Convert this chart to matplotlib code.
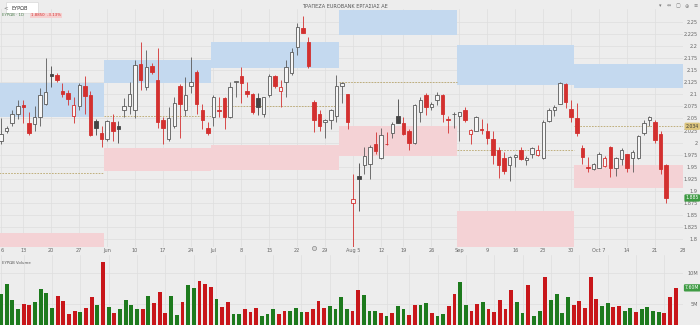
import numpy as np
import pandas as pd
import matplotlib
matplotlib.use("Agg")
import matplotlib.pyplot as plt
import matplotlib.transforms as mtrans
from matplotlib.patches import Rectangle, FancyBboxPatch

# ---------------- data ----------------
holidays = ["2024-06-24", "2024-08-15"]
dates = pd.bdate_range("2024-05-07", "2024-10-23")
dates = dates[~dates.isin(pd.to_datetime(holidays))]

opens = [2.004, 2.023, 2.040, 2.060, 2.077, 2.040, 2.038, 2.054, 2.081, 2.142,
         2.140, 2.108, 2.102, 2.056, 2.075, 2.117, 2.098, 2.044, 2.019, 2.008,
         2.042, 2.035, 2.067, 2.075, 2.067, 2.163, 2.115, 2.158, 2.129, 2.046,
         2.008, 2.035, 2.117, 2.067, 2.117, 2.146, 2.067, 2.031, 2.052, 2.068,
         2.092, 2.052, 2.125, 2.138, 2.108, 2.100, 2.092, 2.060, 2.098, 2.138,
         2.106, 2.125, 2.144, 2.198, 2.238, 2.208, 2.085, 2.060, 2.042, 2.046,
         2.056, 2.117, 2.100, 1.875, 1.931, 1.954, 1.956, 1.996, 1.967, 1.998,
         2.019, 2.056, 2.040, 2.025, 2.000, 2.063, 2.098, 2.073, 2.088, 2.098,
         2.049, 2.059, 2.056, 2.067, 2.017, 2.025, 2.028, 2.025, 2.008, 1.985,
         1.967, 1.954, 1.969, 1.985, 1.964, 1.977, 1.975, 1.967, 2.044, 2.067,
         2.081, 2.121, 2.069, 2.050, 1.988, 1.949, 1.946, 1.948, 1.952, 1.990,
         1.948, 1.965, 1.977, 1.967, 1.967, 2.019, 2.046, 2.042, 2.017, 1.954]
highs = [2.050, 2.035, 2.067, 2.088, 2.088, 2.063, 2.075, 2.113, 2.175, 2.158,
         2.144, 2.123, 2.110, 2.094, 2.123, 2.138, 2.108, 2.048, 2.035, 2.046,
         2.060, 2.044, 2.092, 2.125, 2.171, 2.208, 2.192, 2.165, 2.196, 2.054,
         2.073, 2.094, 2.121, 2.135, 2.177, 2.150, 2.081, 2.042, 2.098, 2.094,
         2.094, 2.125, 2.128, 2.156, 2.125, 2.102, 2.102, 2.094, 2.142, 2.140,
         2.129, 2.171, 2.196, 2.248, 2.263, 2.219, 2.088, 2.067, 2.048, 2.069,
         2.140, 2.125, 2.100, 1.935, 1.958, 1.990, 1.994, 2.021, 2.031, 2.021,
         2.042, 2.090, 2.054, 2.029, 2.081, 2.094, 2.102, 2.085, 2.104, 2.100,
         2.056, 2.063, 2.063, 2.073, 2.029, 2.056, 2.048, 2.040, 2.023, 1.990,
         1.981, 1.973, 1.977, 1.990, 1.973, 1.990, 1.994, 2.046, 2.071, 2.077,
         2.125, 2.123, 2.088, 2.083, 1.994, 1.969, 1.958, 1.981, 1.973, 1.992,
         1.969, 1.988, 1.977, 1.985, 2.015, 2.046, 2.056, 2.046, 2.025, 1.956]
lows = [1.998, 2.019, 2.035, 2.048, 2.040, 2.015, 2.025, 2.035, 2.077, 2.115,
        2.125, 2.094, 2.077, 2.040, 2.067, 2.060, 2.013, 2.015, 1.990, 2.004,
        2.004, 2.000, 2.052, 2.060, 2.050, 2.110, 2.110, 2.142, 2.031, 1.998,
        2.004, 2.031, 2.010, 2.056, 2.102, 2.060, 2.029, 2.015, 2.035, 2.052,
        2.029, 2.050, 2.094, 2.083, 2.094, 2.060, 2.058, 2.052, 2.094, 2.113,
        2.073, 2.094, 2.140, 2.181, 2.227, 2.154, 2.021, 2.025, 2.010, 2.029,
        2.042, 2.083, 2.029, 1.781, 1.858, 1.935, 1.925, 1.977, 1.965, 1.994,
        2.010, 2.040, 2.015, 1.985, 1.998, 2.042, 2.058, 2.067, 2.077, 2.042,
        2.019, 2.031, 2.004, 2.042, 1.998, 2.023, 2.017, 1.998, 1.956, 1.927,
        1.935, 1.921, 1.950, 1.963, 1.954, 1.967, 1.973, 1.965, 2.042, 2.056,
        2.081, 2.071, 2.042, 2.013, 1.956, 1.938, 1.944, 1.948, 1.950, 1.929,
        1.931, 1.954, 1.938, 1.938, 1.965, 2.015, 2.035, 2.000, 1.935, 1.875]
closes = [2.017, 2.031, 2.060, 2.075, 2.073, 2.019, 2.052, 2.098, 2.104, 2.138,
          2.129, 2.100, 2.090, 2.077, 2.119, 2.096, 2.015, 2.031, 2.008, 2.044,
          2.025, 2.029, 2.075, 2.100, 2.160, 2.129, 2.156, 2.146, 2.042, 2.031,
          2.050, 2.083, 2.079, 2.098, 2.125, 2.081, 2.046, 2.019, 2.094, 2.066,
          2.052, 2.115, 2.127, 2.123, 2.100, 2.063, 2.073, 2.094, 2.138, 2.117,
          2.115, 2.156, 2.188, 2.240, 2.227, 2.158, 2.046, 2.035, 2.046, 2.067,
          2.117, 2.123, 2.042, 1.883, 1.925, 1.973, 1.990, 1.983, 2.015, 1.996,
          2.038, 2.040, 2.017, 2.000, 2.077, 2.088, 2.073, 2.081, 2.098, 2.060,
          2.047, 2.060, 2.063, 2.046, 2.027, 2.054, 2.026, 2.010, 1.975, 1.954,
          1.942, 1.969, 1.975, 1.965, 1.967, 1.988, 1.985, 2.042, 2.067, 2.073,
          2.123, 2.085, 2.054, 2.019, 1.969, 1.947, 1.956, 1.977, 1.967, 1.948,
          1.967, 1.985, 1.948, 1.981, 2.013, 2.040, 2.054, 2.006, 1.946, 1.885]
volumes_m = [6.6, 8.2, 5.6, 4.2, 5.0, 4.8, 5.3, 7.4, 6.8, 4.4,
             6.3, 5.5, 3.4, 3.9, 3.7, 4.4, 6.1, 4.8, 11.8, 4.5,
             3.5, 4.2, 5.6, 4.8, 4.2, 4.2, 6.3, 5.2, 6.9, 3.5,
             6.3, 3.2, 5.3, 8.1, 7.6, 8.7, 8.2, 7.7, 5.8, 4.5,
             5.3, 3.4, 3.4, 4.2, 3.7, 4.4, 3.1, 3.4, 4.2, 3.4,
             3.9, 3.9, 4.4, 3.7, 3.7, 4.2, 5.5, 4.4, 4.7, 4.2,
             6.1, 4.2, 3.9, 7.3, 6.5, 3.9, 3.9, 3.5, 3.1, 3.5,
             4.7, 4.2, 3.2, 4.8, 4.8, 5.2, 3.5, 3.1, 3.4, 4.7,
             6.6, 8.5, 4.8, 3.9, 5.0, 5.3, 4.2, 3.7, 5.6, 4.2,
             7.3, 5.3, 3.5, 8.1, 3.1, 3.9, 9.4, 5.6, 6.6, 3.5,
             6.1, 4.8, 5.5, 4.4, 9.4, 5.8, 4.7, 5.2, 4.5, 4.7,
             3.9, 4.4, 3.7, 4.2, 4.5, 3.9, 3.7, 3.5, 6.1, 7.6]

# monthly zones (upper = blue, lower = pink)
zone_months = [5, 6, 7, 8, 9, 10]
upper_top = [2.123, 2.171, 2.208, 2.275, 2.202, 2.1625]
upper_bot = [2.052, 2.123, 2.154, 2.223, 2.119, 2.1125]
lower_top = [1.8125, 1.988, 1.994, 2.035, 1.858, 1.954]
lower_bot = [1.760, 1.942, 1.944, 1.973, 1.760, 1.906]

week_labels = ["6", "13", "20", "27", "Jun", "10", "17", "24", "Jul", "8", "15",
               "22", "29", "Aug 5", "12", "19", "26", "Sep", "9", "16", "23",
               "30", "Oct 7", "14", "21", "28"]
price_ticks = [1.8, 1.825, 1.85, 1.875, 1.9, 1.925, 1.95, 1.975, 2.0, 2.025, 2.05,
               2.075, 2.1, 2.125, 2.15, 2.175, 2.2, 2.225, 2.25]
vol_ticks = [5, 10]
vol_tick_labels = ["5M", "10M"]
title = "ΤΡΑΠΕΖΑ EUROBANK ΕΡΓΑΣΙΑΣ ΑΕ"
symbol = "ΕΥΡΩΒ"

# ---------------- style ----------------
BG = "#ededed"
GRID = "#dedede"
RED = "#d3302f"
GRAY = "#5a5a5a"
DARK = "#444444"
HOLLOW = "#f6f6f6"
VGREEN = "#1d7a1d"
VRED = "#c8161a"
BLUE_Z = "#c4d9ef"
PINK_Z = "#f4d2d5"
MID = "#b9a66b"

W, H = 700, 325
fig = plt.figure(figsize=(7, 3.25), dpi=100)
fig.patch.set_facecolor(BG)


def rect(x0, y0, x1, y1):
    return [x0 / W, 1 - y1 / H, (x1 - x0) / W, (y1 - y0) / H]


ax = fig.add_axes(rect(0, 9, 683, 247))
vax = fig.add_axes(rect(0, 255, 683, 335))
n = len(closes)
x = np.arange(n)
for a in (ax, vax):
    a.set_facecolor(BG)
    for s in a.spines.values():
        s.set_visible(False)
    a.set_xlim(-0.18, 120.3)
ax.set_ylim(1.7833, 2.2771)
vax.set_ylim(0, 12.9)

# week tick positions: first trading day of each week
wk = dates.to_period("W")
first_idx = [0] + [i for i in range(1, n) if wk[i] != wk[i - 1]]
next_monday_pos = first_idx[-1] + 5  # Oct 28 (beyond data)
tick_pos = first_idx + [next_monday_pos]
tick_pos = tick_pos[:len(week_labels)]

for a in (ax, vax):
    for tp in tick_pos:
        a.axvline(tp, color=GRID, lw=0.5, zorder=0)

ax.set_xticks(tick_pos)
ax.set_xticklabels(week_labels, fontsize=3.6, color="#666666")
ax.get_xticklabels()[0].set_ha("left")
ax.tick_params(axis="x", length=0, pad=1.0)
vax.set_xticks([])

# price axis
ax.yaxis.tick_right()
ax.set_yticks(price_ticks)
ax.set_yticklabels([f"{v:g}" for v in price_ticks], fontsize=3.6, color="#666666")
for lbl in ax.get_yticklabels():
    lbl.set_ha("right")
ax.tick_params(axis="y", length=0, pad=10.8)
for v in price_ticks:
    ax.axhline(v, color=GRID, lw=0.5, zorder=0)

vax.yaxis.tick_right()
vax.set_yticks(vol_ticks)
vax.set_yticklabels(vol_tick_labels, fontsize=3.6, color="#666666")
for lbl in vax.get_yticklabels():
    lbl.set_ha("right")
vax.tick_params(axis="y", length=0, pad=10.8)
for v in vol_ticks:
    vax.axhline(v, color=GRID, lw=0.5, zorder=0)

# monthly zones
months = np.array(dates.month)
for m, ut, ub, lt, lb in zip(zone_months, upper_top, upper_bot, lower_top, lower_bot):
    idx = np.where(months == m)[0]
    x0 = idx[0] - 0.5
    x1 = idx[-1] + 0.5
    if m == zone_months[-1]:
        x1 = 125
    ax.add_patch(Rectangle((x0, ub), x1 - x0, ut - ub, fc=BLUE_Z, ec="none", zorder=1))
    ax.add_patch(Rectangle((x0, lb), x1 - x0, lt - lb, fc=PINK_Z, ec="none", zorder=1))
    mid = ((ut + ub) / 2 + (lt + lb) / 2) / 2
    ax.hlines(mid, x0, x1, colors=MID, linestyles=(0, (2, 1.5)), lw=0.6, zorder=1.5)

# candles
bw = 0.62
for i in range(n):
    o, h, l, c = opens[i], highs[i], lows[i], closes[i]
    prev = closes[i - 1] if i > 0 else o
    down_vs_prev = c < prev
    up = c >= o
    col = RED if down_vs_prev else (GRAY if up else DARK)
    ax.vlines(i, l, h, color=col, lw=0.6, zorder=2)
    bot = min(o, c)
    ht = max(abs(c - o), 0.0009)
    fc = HOLLOW if up else col
    ax.add_patch(Rectangle((i - bw / 2, bot), bw, ht, fc=fc, ec=col, lw=0.6, zorder=3))

# volume
vcols = [VGREEN if (i == 0 or closes[i] >= closes[i - 1]) else VRED for i in range(n)]
vax.bar(x, volumes_m, width=0.68, color=vcols, zorder=2)

# badges on the right axis
bt = mtrans.blended_transform_factory(ax.transAxes, ax.transData)
last_close = closes[-1]
oct_mid = ((upper_top[-1] + upper_bot[-1]) / 2 + (lower_top[-1] + lower_bot[-1]) / 2) / 2
ax.text(1.0135, oct_mid, f"{oct_mid:.3f}", transform=bt, fontsize=3.3, ha="center",
        va="center", color="#3a3a3a",
        bbox=dict(boxstyle="round,pad=0.25", fc="#dcc47c", ec="none"), clip_on=False)
ax.text(1.0135, last_close, f"{last_close:.3f}", transform=bt, fontsize=3.3, ha="center",
        va="center", color="white",
        bbox=dict(boxstyle="round,pad=0.25", fc="#3f9b44", ec="none"), clip_on=False)
vbt = mtrans.blended_transform_factory(vax.transAxes, vax.transData)
vax.text(1.0135, volumes_m[-1], f"{volumes_m[-1]:.2f}M", transform=vbt, fontsize=3.3,
         ha="center", va="center", color="white",
         bbox=dict(boxstyle="round,pad=0.25", fc="#3f9b44", ec="none"), clip_on=False)

# event marker
bx = mtrans.blended_transform_factory(ax.transData, ax.transAxes)
ax.plot([56], [-0.006], transform=bx, marker="o", ms=3, mfc="#d8d8d8", mec="#8a8a8a",
        mew=0.5, clip_on=False, zorder=5)

# header UI texts
fig.add_artist(FancyBboxPatch((8 / W, 1 - 13 / H), 29 / W, 10 / H,
                              boxstyle="round,pad=0.002", fc="white", ec="#cfcfcf",
                              lw=0.4, transform=fig.transFigure))
fig.text(3 / W, 1 - 8 / H, "<", fontsize=4, color="#777777", va="center")
fig.text(11 / W, 1 - 8 / H, symbol, fontsize=3.6, color="#333333", va="center")
fig.text(345 / W, 1 - 7 / H, title, fontsize=3.6, color="#555555", ha="center", va="center")
fig.text(2 / W, 1 - 15.5 / H, symbol + " · 1D", fontsize=2.8, color="#4d7f4d",
         va="center")
chg = (closes[-1] / closes[-2] - 1) * 100
fig.text(31 / W, 1 - 15.5 / H, f"{last_close:.4f}  {chg:.2f}%", fontsize=2.8, color=RED,
         va="center", bbox=dict(boxstyle="square,pad=0.2", fc="#f6d0d0", ec="none"))
for k, g in enumerate(["▾", "⇔", "▢", "⊕", "≡"]):
    fig.text((660 + k * 9) / W, 1 - 6 / H, g, fontsize=3.6, color="#777777",
             ha="center", va="center")
fig.text(2 / W, 1 - 263 / H, symbol + " Volume", fontsize=2.8, color="#555555", va="center")

fig.savefig("out.png", dpi=100, facecolor=BG)
